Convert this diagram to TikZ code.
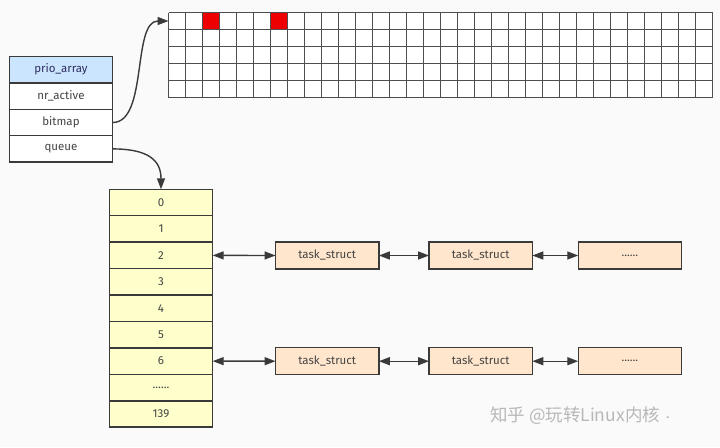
\documentclass[tikz,border=0pt]{standalone}
\usepackage{fontspec}
\setmainfont{Fira Sans}
\newfontfamily\cjk{Noto Sans CJK SC}
\usetikzlibrary{arrows.meta}
\definecolor{bgc}{HTML}{FAFAFA}
\definecolor{edge}{HTML}{3A3A3A}
\definecolor{txt}{HTML}{444444}
\definecolor{hdr}{HTML}{CCE5FF}
\definecolor{yel}{HTML}{FFFFCC}
\definecolor{peach}{HTML}{FFE6CC}
\definecolor{redc}{HTML}{EE0000}
\tikzset{
  cellbox/.style={draw=edge, line width=1.5pt, rectangle, inner sep=0pt, outer sep=0pt,
    text=txt, font=\fontsize{11.5}{12}\selectfont},
  tablecell/.style={cellbox, minimum width=103.4, minimum height=26.4},
  qcell/.style={cellbox, fill=yel, minimum width=103.4, minimum height=26.44},
  taskbox/.style={cellbox, fill=peach, minimum width=103.3, minimum height=27},
  gridln/.style={draw=edge!90, line width=1.4pt},
  conn/.style={draw=edge, line width=1.4pt, -{Triangle[length=11pt,width=8pt]}},
  dconn/.style={draw=edge, line width=1.4pt, {Triangle[length=11pt,width=8pt]}-{Triangle[length=11pt,width=8pt]}},
}
\begin{document}
\begin{tikzpicture}[x=1pt,y=-1pt]
\useasboundingbox[fill=bgc] (0,0) rectangle (720,447);
% bitmap grid
\def\gx{168.5}\def\gy{12.5}\def\cw{17}\def\ch{17}
\fill[white] (\gx,\gy) rectangle ({\gx+32*\cw},{\gy+5*\ch});
\fill[redc] ({\gx+2*\cw},\gy) rectangle ({\gx+3*\cw},{\gy+\ch});
\fill[redc] ({\gx+6*\cw},\gy) rectangle ({\gx+7*\cw},{\gy+\ch});
\foreach \i in {0,...,32} \draw[gridln] ({\gx+\i*\cw},\gy) -- ({\gx+\i*\cw},{\gy+5*\ch});
\foreach \j in {0,...,5} \draw[gridln] (\gx,{\gy+\j*\ch}) -- ({\gx+32*\cw},{\gy+\j*\ch});
\coordinate (gA) at (\gx,{\gy+0.5*\ch});
% prio_array
\node[tablecell, fill=hdr, text=edge!80!blue] (pa) at (61,69.7) {prio\_array};
\node[tablecell, fill=white, anchor=north] (na) at (pa.south) {nr\_active};
\node[tablecell, fill=white, anchor=north] (bm) at (na.south) {bitmap};
\node[tablecell, fill=white, anchor=north] (qu) at (bm.south) {queue};
% queue array
\node[qcell] (a0) at (161,202.5) {0};
\node[qcell, anchor=north] (a1) at (a0.south) {1};
\node[qcell, anchor=north] (a2) at (a1.south) {2};
\node[qcell, anchor=north] (a3) at (a2.south) {3};
\node[qcell, anchor=north] (a4) at (a3.south) {4};
\node[qcell, anchor=north] (a5) at (a4.south) {5};
\node[qcell, anchor=north] (a6) at (a5.south) {6};
\node[qcell, anchor=north] (a7) at (a6.south) {......};
\node[qcell, anchor=north] (a8) at (a7.south) {139};
% task structs
\node[taskbox] (t1) at (327.2,255.5) {task\_struct};
\node[taskbox] (t2) at (480.7,255.5) {task\_struct};
\node[taskbox] (t3) at (629.9,255.5) {......};
\node[taskbox] (u1) at (327.2,361.2) {task\_struct};
\node[taskbox] (u2) at (480.7,361.2) {task\_struct};
\node[taskbox] (u3) at (629.9,361.2) {......};
% connectors
\draw[conn] (bm.east) .. controls (148,122.5) and (132,21) .. (gA);
\draw[conn] (qu.east) .. controls (148,149) and (161,160) .. (a0.north);
\draw[dconn] (a2.east) -- (t1.west);
\draw[dconn] (t1.east) -- (t2.west);
\draw[dconn] (t2.east) -- (t3.west);
\draw[dconn] (a6.east) -- (u1.west);
\draw[dconn] (u1.east) -- (u2.west);
\draw[dconn] (u2.east) -- (u3.west);
% watermark
\node[anchor=west, text=black!28, font=\cjk\fontsize{17.5}{20}\selectfont, inner sep=0pt] (wm) at (490,416) {知乎 @玩转Linux内核\,{\fontsize{10}{10}\selectfont·}};
\end{tikzpicture}
\end{document}
